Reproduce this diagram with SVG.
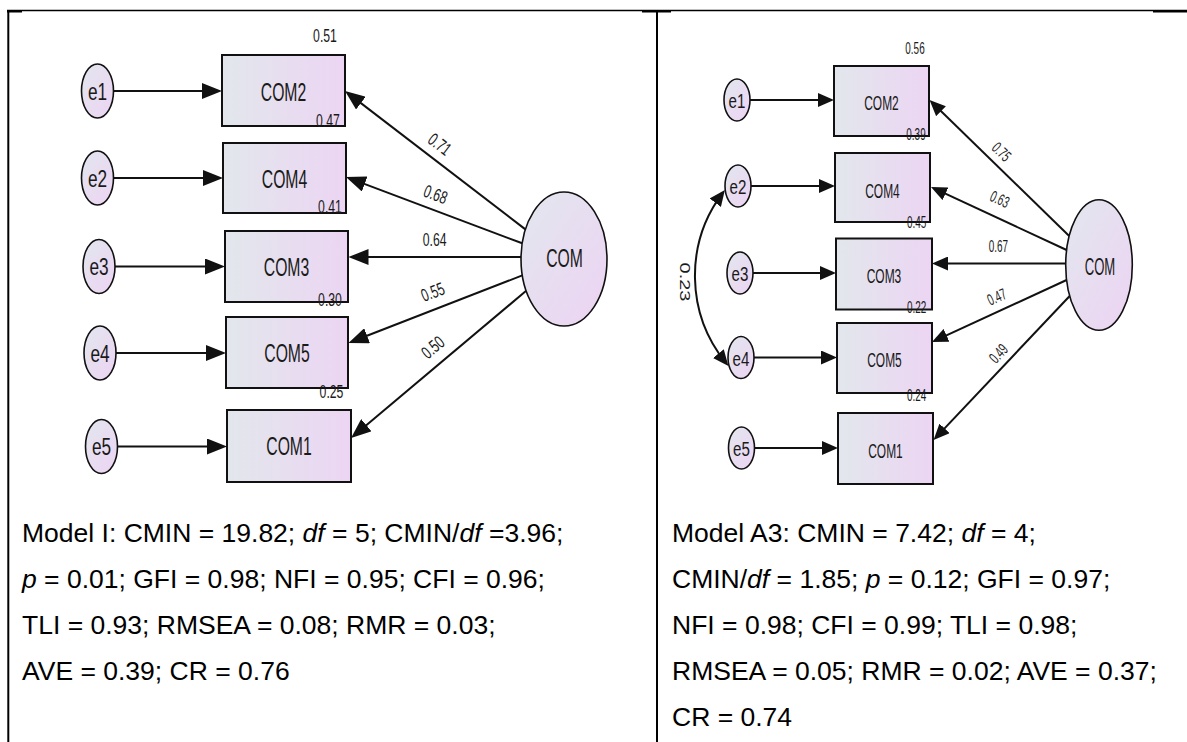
<svg xmlns="http://www.w3.org/2000/svg" width="1187" height="742" viewBox="0 0 1187 742">
  <style>
    .frame { stroke: #000; fill: none; }
    .node rect { fill: url(#gBox); stroke: #111; stroke-width: 2; }
    .node ellipse { fill: url(#gOval); stroke: #111; stroke-width: 1.6; }
    .lbl { font-family: "Liberation Sans", Arial, sans-serif; fill: #1a1a1a; text-anchor: middle; }
    .f25 { font-size: 25px; }
    .f23 { font-size: 23px; }
    .f21 { font-size: 21px; }
    .f18 { font-size: 18px; }
    .f16 { font-size: 16px; }
    .conn line, .conn path { stroke: #111; stroke-width: 2; fill: none; }
    .big line { marker-end: url(#arrL); }
    .small line { marker-end: url(#arrS); }
    .fit { font-family: "Liberation Sans", Arial, sans-serif; font-size: 26.5px; fill: #000; }
    .it { font-style: italic; }
  </style>
  <defs>
    <linearGradient id="gBox" x1="0" y1="0" x2="1" y2="0">
      <stop offset="0" stop-color="#e2e7ec"/>
      <stop offset="1" stop-color="#ecd5f3"/>
    </linearGradient>
    <linearGradient id="gOval" x1="0" y1="0" x2="1" y2="1">
      <stop offset="0" stop-color="#e2e7ee"/>
      <stop offset="1" stop-color="#edd3f3"/>
    </linearGradient>
    <marker id="arrL" markerUnits="userSpaceOnUse" markerWidth="20" markerHeight="16" viewBox="0 0 20 16" refX="16" refY="8" orient="auto">
      <path d="M0,0 L20,8 L0,16 Z" fill="#111"/>
    </marker>
    <marker id="arrS" markerUnits="userSpaceOnUse" markerWidth="16" markerHeight="14" viewBox="0 0 16 14" refX="12" refY="7" orient="auto-start-reverse">
      <path d="M0,0 L16,7 L0,14 Z" fill="#111"/>
    </marker>
  </defs>

  <rect width="1187" height="742" fill="#fff"/>

  <!-- table frame -->
  <g id="frame" class="frame">
    <line x1="7" y1="10.5" x2="1187" y2="10.5" stroke-width="1.3"/>
    <line x1="8.3" y1="10" x2="8.3" y2="742" stroke-width="2"/>
    <line x1="657" y1="10" x2="657" y2="742" stroke-width="2"/>
    <rect x="7" y="10" width="15" height="2.5" fill="#000" stroke="none"/>
    <rect x="642" y="10" width="29" height="2.5" fill="#000" stroke="none"/>
    <rect x="1153" y="10" width="34" height="2.5" fill="#000" stroke="none"/>
  </g>

  <!-- ===== Model I ===== -->
  <g id="L-connectors" class="conn">
    <g class="big">
      <line x1="113.5" y1="91" x2="218" y2="91"/>
      <line x1="113.5" y1="178" x2="219" y2="178"/>
      <line x1="115" y1="266.5" x2="221" y2="266.5"/>
      <line x1="116" y1="353" x2="222" y2="353"/>
      <line x1="117.5" y1="446.5" x2="223" y2="446.5"/>
      <line x1="525.4" y1="229.4" x2="348.2" y2="93.4"/>
      <line x1="522.2" y1="243.3" x2="349.7" y2="178.4"/>
      <line x1="521" y1="257" x2="352.5" y2="257"/>
      <line x1="522.3" y1="275.4" x2="352.2" y2="341.5"/>
      <line x1="526.2" y1="290.8" x2="354.1" y2="435.4"/>
    </g>
    <text class="lbl f18" transform="translate(440,144) rotate(37.5) scale(0.68,1)" y="6.5">0.71</text>
    <text class="lbl f18" transform="translate(435.7,194) rotate(20.6) scale(0.68,1)" y="6.5">0.68</text>
    <text class="lbl f18" transform="translate(434.7,239.5) scale(0.68,1)" y="6.5">0.64</text>
    <text class="lbl f18" transform="translate(432.7,291.7) rotate(-21.5) scale(0.68,1)" y="6.5">0.55</text>
    <text class="lbl f18" transform="translate(432.7,347) rotate(-40) scale(0.68,1)" y="6.5">0.50</text>
  </g>

  <g id="L-e1" class="node">
    <ellipse cx="97.5" cy="91" rx="16" ry="27"/>
    <text class="lbl f23" transform="translate(97.5,99.5) scale(0.75,1)">e1</text>
  </g>
  <g id="L-e2" class="node">
    <ellipse cx="97.5" cy="178" rx="16" ry="27"/>
    <text class="lbl f23" transform="translate(97.5,186.5) scale(0.75,1)">e2</text>
  </g>
  <g id="L-e3" class="node">
    <ellipse cx="99" cy="266.5" rx="16" ry="27"/>
    <text class="lbl f23" transform="translate(99,275) scale(0.75,1)">e3</text>
  </g>
  <g id="L-e4" class="node">
    <ellipse cx="100" cy="353" rx="16" ry="27"/>
    <text class="lbl f23" transform="translate(100,361.5) scale(0.75,1)">e4</text>
  </g>
  <g id="L-e5" class="node">
    <ellipse cx="101.5" cy="446.5" rx="16" ry="27"/>
    <text class="lbl f23" transform="translate(101.5,455) scale(0.75,1)">e5</text>
  </g>

  <g id="L-COM2" class="node">
    <rect x="222" y="55" width="123" height="71"/>
    <text class="lbl f25" transform="translate(283.5,101) scale(0.63,1)">COM2</text>
    <text class="lbl f18" transform="translate(325,41.5) scale(0.68,1)">0.51</text>
  </g>
  <g id="L-COM4" class="node">
    <rect x="223" y="143" width="123" height="70"/>
    <text class="lbl f25" transform="translate(284.5,188) scale(0.63,1)">COM4</text>
    <text class="lbl f18" transform="translate(328,126.5) scale(0.68,1)">0.47</text>
  </g>
  <g id="L-COM3" class="node">
    <rect x="225" y="231" width="123" height="71"/>
    <text class="lbl f25" transform="translate(286.5,275.5) scale(0.63,1)">COM3</text>
    <text class="lbl f18" transform="translate(330,213) scale(0.68,1)">0.41</text>
  </g>
  <g id="L-COM5" class="node">
    <rect x="226" y="317" width="122" height="71"/>
    <text class="lbl f25" transform="translate(287,362) scale(0.63,1)">COM5</text>
    <text class="lbl f18" transform="translate(330,305.5) scale(0.68,1)">0.30</text>
  </g>
  <g id="L-COM1" class="node">
    <rect x="227" y="410" width="124" height="72"/>
    <text class="lbl f25" transform="translate(289,455) scale(0.63,1)">COM1</text>
    <text class="lbl f18" transform="translate(331.5,398) scale(0.68,1)">0.25</text>
  </g>
  <g id="L-COM" class="node">
    <ellipse cx="564" cy="259" rx="43" ry="67"/>
    <text class="lbl f25" transform="translate(564.5,266.5) scale(0.63,1)">COM</text>
  </g>

  <g id="L-fit" class="fit">
    <text x="22" y="542">Model I: CMIN = 19.82; <tspan class="it">df</tspan> = 5; CMIN/<tspan class="it">df</tspan> =3.96;</text>
    <text x="22" y="588"><tspan class="it">p</tspan> = 0.01; GFI = 0.98; NFI = 0.95; CFI = 0.96;</text>
    <text x="22" y="634">TLI = 0.93; RMSEA = 0.08; RMR = 0.03;</text>
    <text x="22" y="680">AVE = 0.39; CR = 0.76</text>
  </g>

  <!-- ===== Model A3 ===== -->
  <g id="R-connectors" class="conn">
    <g class="small">
      <line x1="750" y1="100" x2="830" y2="100"/>
      <line x1="751" y1="186" x2="831" y2="186"/>
      <line x1="753" y1="273" x2="832" y2="273"/>
      <line x1="754" y1="357.5" x2="833" y2="357.5"/>
      <line x1="754.5" y1="448" x2="834" y2="448"/>
      <line x1="1069.2" y1="236" x2="932.4" y2="102.8"/>
      <line x1="1066.6" y1="250" x2="934.6" y2="188.7"/>
      <line x1="1065.7" y1="263.5" x2="936" y2="263.5"/>
      <line x1="1066.6" y1="280" x2="935.6" y2="340.3"/>
      <line x1="1069.7" y1="296" x2="936.3" y2="437.1"/>
    </g>
    <!-- e2 <-> e4 covariance -->
    <path d="M722.5,193.1 A138,138 0 0 0 725.9,362.9" marker-start="url(#arrS)" marker-end="url(#arrS)"/>
    <text class="lbl" font-size="19" transform="translate(685.5,282) rotate(90) scale(1.05,0.8)" y="6.8">0.23</text>
    <text class="lbl f16" transform="translate(1001.7,151.7) rotate(44) scale(0.62,1)" y="5.7">0.75</text>
    <text class="lbl f16" transform="translate(1000,199) rotate(24.7) scale(0.62,1)" y="5.7">0.63</text>
    <text class="lbl f16" transform="translate(998.3,246.7) scale(0.62,1)" y="5.7">0.67</text>
    <text class="lbl f16" transform="translate(996.7,296.7) rotate(-24) scale(0.62,1)" y="5.7">0.47</text>
    <text class="lbl f16" transform="translate(998.3,353.3) rotate(-47) scale(0.62,1)" y="5.7">0.49</text>
  </g>

  <g id="R-e1" class="node">
    <ellipse cx="737" cy="100" rx="13" ry="21"/>
    <text class="lbl f21" transform="translate(737,108) scale(0.72,1)">e1</text>
  </g>
  <g id="R-e2" class="node">
    <ellipse cx="738" cy="186" rx="13" ry="21"/>
    <text class="lbl f21" transform="translate(738,194) scale(0.72,1)">e2</text>
  </g>
  <g id="R-e3" class="node">
    <ellipse cx="740" cy="273" rx="13" ry="21"/>
    <text class="lbl f21" transform="translate(740,281) scale(0.72,1)">e3</text>
  </g>
  <g id="R-e4" class="node">
    <ellipse cx="741" cy="357.5" rx="13" ry="21"/>
    <text class="lbl f21" transform="translate(741,365.5) scale(0.72,1)">e4</text>
  </g>
  <g id="R-e5" class="node">
    <ellipse cx="741.5" cy="448" rx="13" ry="21"/>
    <text class="lbl f21" transform="translate(741.5,456) scale(0.72,1)">e5</text>
  </g>

  <g id="R-COM2" class="node">
    <rect x="834" y="66" width="95" height="70"/>
    <text class="lbl f21" transform="translate(881.5,110) scale(0.57,1)">COM2</text>
    <text class="lbl f16" transform="translate(915,54) scale(0.62,1)">0.56</text>
  </g>
  <g id="R-COM4" class="node">
    <rect x="835" y="153" width="95" height="69"/>
    <text class="lbl f21" transform="translate(882.5,198) scale(0.57,1)">COM4</text>
    <text class="lbl f16" transform="translate(916,140) scale(0.62,1)">0.39</text>
  </g>
  <g id="R-COM3" class="node">
    <rect x="836" y="238.5" width="96" height="71"/>
    <text class="lbl f21" transform="translate(884,283) scale(0.57,1)">COM3</text>
    <text class="lbl f16" transform="translate(916.7,228) scale(0.62,1)">0.45</text>
  </g>
  <g id="R-COM5" class="node">
    <rect x="837" y="323" width="95" height="70"/>
    <text class="lbl f21" transform="translate(884.5,366.5) scale(0.57,1)">COM5</text>
    <text class="lbl f16" transform="translate(916.7,313) scale(0.62,1)">0.22</text>
  </g>
  <g id="R-COM1" class="node">
    <rect x="838" y="413" width="95" height="71"/>
    <text class="lbl f21" transform="translate(885.5,458) scale(0.57,1)">COM1</text>
    <text class="lbl f16" transform="translate(916.7,401) scale(0.62,1)">0.24</text>
  </g>
  <g id="R-COM" class="node">
    <ellipse cx="1099" cy="265" rx="33.3" ry="65.3"/>
    <text class="lbl f23" transform="translate(1100,275) scale(0.57,1)">COM</text>
  </g>

  <g id="R-fit" class="fit">
    <text x="672" y="542">Model A3: CMIN = 7.42; <tspan class="it">df</tspan> = 4;</text>
    <text x="672" y="588">CMIN/<tspan class="it">df</tspan> = 1.85; <tspan class="it">p</tspan> = 0.12; GFI = 0.97;</text>
    <text x="672" y="634">NFI = 0.98; CFI = 0.99; TLI = 0.98;</text>
    <text x="672" y="680">RMSEA = 0.05; RMR = 0.02; AVE = 0.37;</text>
    <text x="672" y="726">CR = 0.74</text>
  </g>
</svg>
